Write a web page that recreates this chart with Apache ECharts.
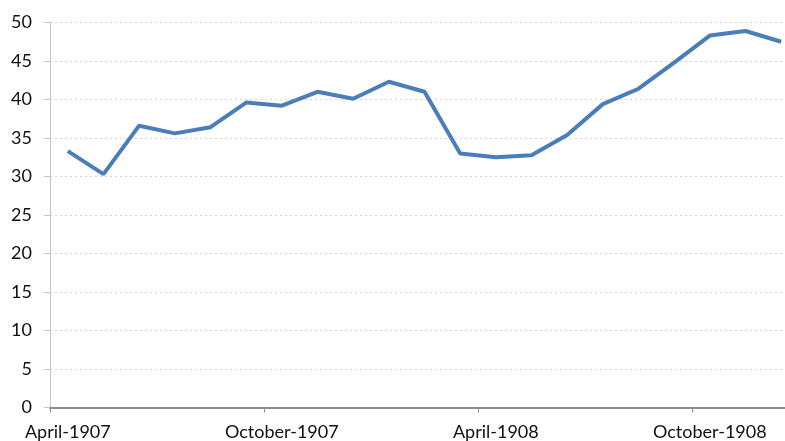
<!DOCTYPE html>
<html>
<head>
<meta charset="utf-8">
<script src="https://cdn.jsdelivr.net/npm/echarts@6/dist/echarts.min.js"></script>
<style>
html, body { margin: 0; padding: 0; background: #fff; overflow: hidden; }
#chart { width: 785px; height: 441px; }
</style>
</head>
<body>
<div id="chart"></div>
<script>
var months = ['April-1907', 'May-1907', 'June-1907', 'July-1907', 'August-1907', 'September-1907',
    'October-1907', 'November-1907', 'December-1907', 'January-1908', 'February-1908', 'March-1908',
    'April-1908', 'May-1908', 'June-1908', 'July-1908', 'August-1908', 'September-1908',
    'October-1908', 'November-1908', 'December-1908'];
var values = [33.3, 30.3, 36.6, 35.6, 36.4, 39.6, 39.2, 41.0, 40.1, 42.3, 41.0, 33.0,
    32.5, 32.75, 35.4, 39.4, 41.4, 44.8, 48.3, 48.9, 47.5];

var font = 'Lato, "Open Sans", sans-serif';

var chart = echarts.init(document.getElementById('chart'));
chart.setOption({
    animation: false,
    grid: {
        left: 50,
        right: -14,
        top: 22.5,
        bottom: 33.5,
        containLabel: false,
        outerBoundsMode: 'none'
    },
    xAxis: {
        type: 'category',
        data: months,
        boundaryGap: true,
        axisLine: { lineStyle: { color: '#8c8c8c', width: 2 } },
        axisTick: { show: true, interval: 5, length: 5, lineStyle: { color: '#8c8c8c' } },
        axisLabel: {
            interval: 5,
            margin: 16,
            color: '#111',
            fontSize: 18,
            fontFamily: font
        },
        splitLine: { show: false }
    },
    yAxis: {
        type: 'value',
        min: 0,
        max: 50,
        interval: 5,
        axisLine: { show: true, lineStyle: { color: '#c4c4c4', width: 1 } },
        axisTick: { show: true, length: 6, lineStyle: { color: '#c4c4c4' } },
        axisLabel: {
            margin: 18,
            color: '#111',
            fontSize: 18,
            fontFamily: font
        },
        splitLine: { show: true, lineStyle: { color: '#d6d6d6', type: [2, 3], width: 1 } }
    },
    series: [{
        type: 'line',
        data: values,
        showSymbol: false,
        symbol: 'none',
        lineStyle: { color: '#4a7ebb', width: 4 }
    }]
});
</script>
</body>
</html>
